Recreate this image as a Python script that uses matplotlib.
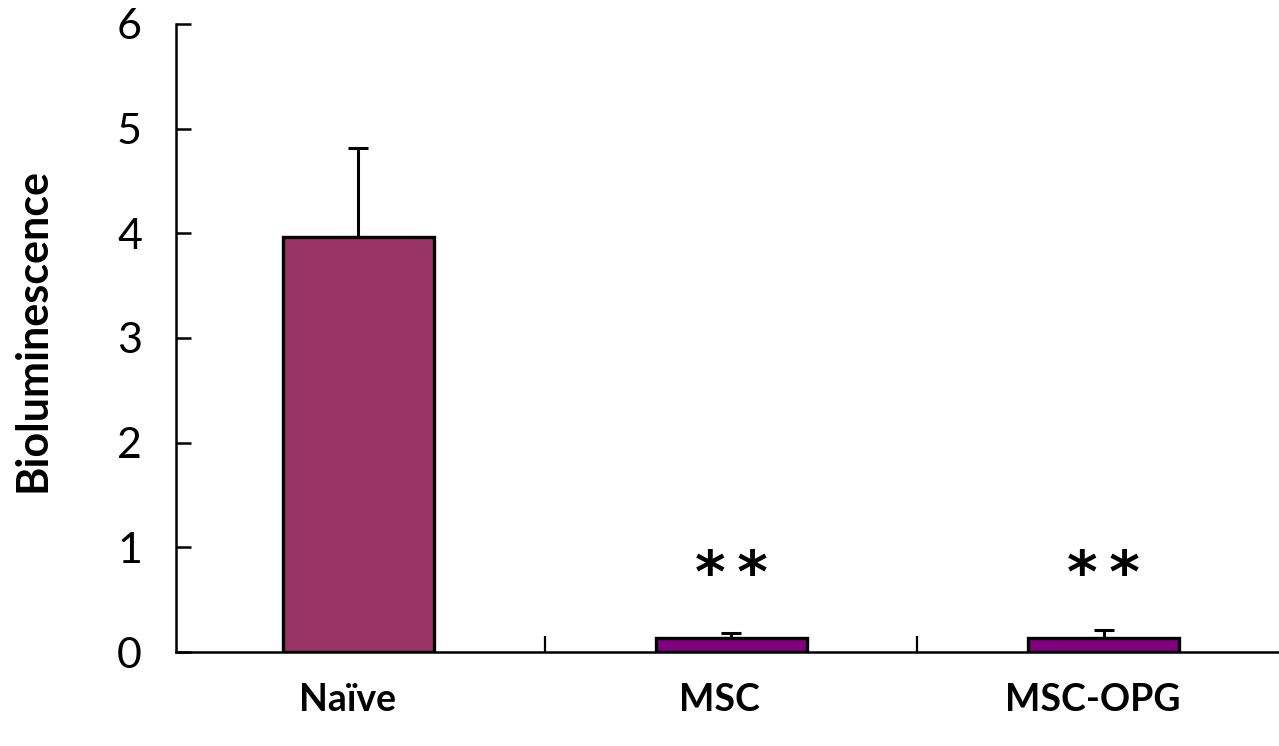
import matplotlib

matplotlib.use("Agg")
import matplotlib.pyplot as plt
from matplotlib.ticker import FixedLocator
from matplotlib.transforms import ScaledTranslation

groups = ["Naïve", "MSC", "MSC-OPG"]
means = [3.96, 0.13, 0.13]
sem = [0.85, 0.05, 0.08]
stars = ["", "*\u2009*", "*\u2009*"]
bar_colors = ["#993366", "#800080", "#800080"]

plt.rcParams["font.family"] = ["Lato", "DejaVu Sans"]

fig = plt.figure(figsize=(12.79, 7.46), dpi=100)
ax = fig.add_axes([0.1376, 0.126, 0.8624, 0.842])

x = list(range(len(groups)))
ax.bar(x, means, width=0.405, color=bar_colors, edgecolor="black",
       linewidth=2.4, zorder=2)

# upper-only error bars
ax.errorbar(x, means, yerr=[[0] * len(sem), sem], fmt="none", ecolor="black",
            elinewidth=2.2, capsize=7.5, capthick=2.2, zorder=1)

for xi, s in zip(x, stars):
    if s:
        ax.text(xi, 0.73, s, ha="center", va="center", fontsize=42,
                fontweight="bold", family="DejaVu Sans")

ax.set_xlim(-0.489, 2.470)
ax.set_ylim(0, 6)
ax.set_yticks(range(7))
ax.tick_params(axis="y", direction="in", length=11, width=1.8,
               labelsize=31, pad=24.5)

ax.set_xticks(x)
ax.set_xticklabels(groups, fontsize=27, fontweight="bold")
ax.tick_params(axis="x", which="major", length=0, pad=22)
ax.xaxis.set_minor_locator(FixedLocator([0.5, 1.5]))
ax.tick_params(axis="x", which="minor", direction="in", length=11.5, width=1.6)
shift = ScaledTranslation(-8 / 72, 0, fig.dpi_scale_trans)
for lbl in ax.get_xticklabels():
    lbl.set_transform(lbl.get_transform() + shift)

ax.set_ylabel("Bioluminescence", fontsize=31, fontweight="bold")
ax.yaxis.set_label_coords(-0.1124, 0.513)

for side in ("top", "right"):
    ax.spines[side].set_visible(False)
for side in ("left", "bottom"):
    ax.spines[side].set_linewidth(1.8)

fig.savefig("out.png", dpi=100)
